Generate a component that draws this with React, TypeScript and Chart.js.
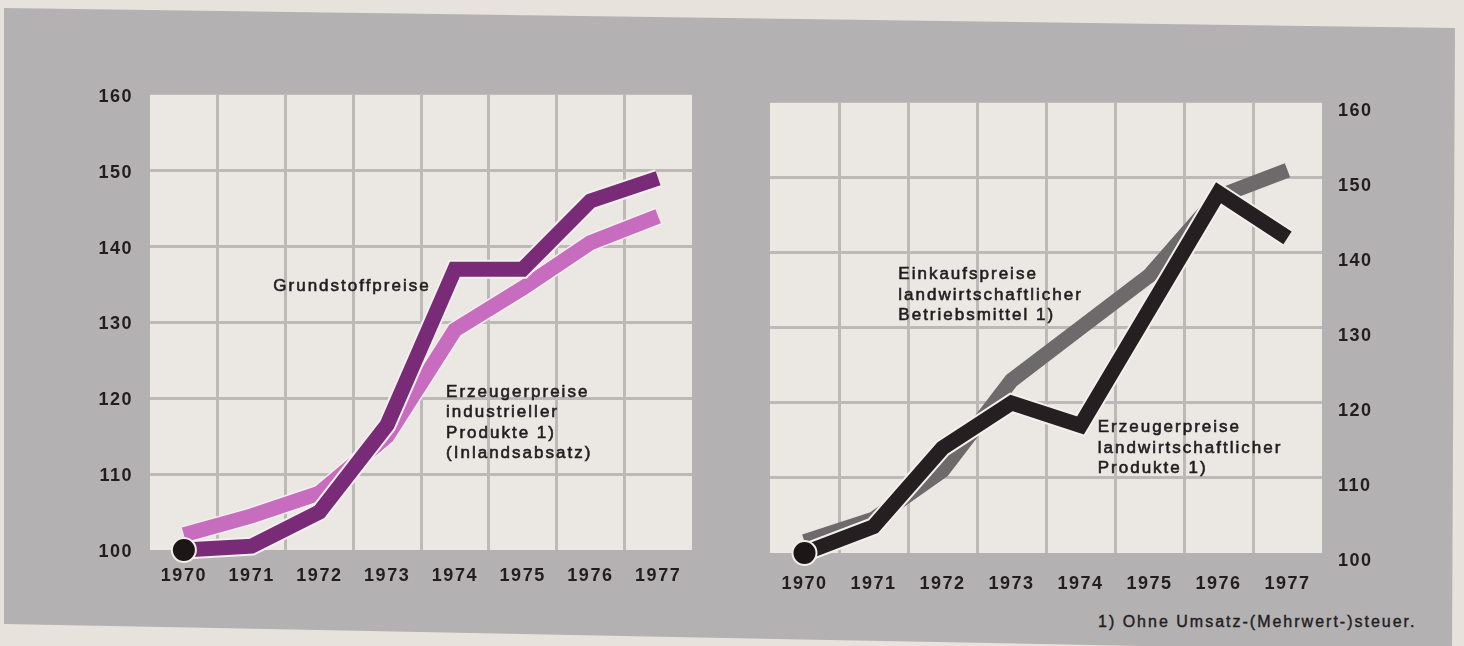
import React, { useEffect, useRef } from "react";
import { Chart, registerables } from "chart.js";

Chart.register(...registerables);

// ---------- data ----------
const years = ["1970", "1971", "1972", "1973", "1974", "1975", "1976", "1977"];
const yMin = 100;
const yMax = 160;
const yStep = 10;

// left panel
const grundstoffpreise = [100, 100.5, 105, 116.5, 137, 137, 146, 149];
const erzeugerpreiseIndustrie = [102, 104.5, 107.5, 115, 129, 134.5, 140.5, 144];

// right panel
const erzeugerpreiseLandwirtschaft = [100, 103.5, 114, 120, 117, 132.5, 148, 142];
const einkaufspreiseBetriebsmittel = [101.5, 104.5, 111, 123, 130, 137, 147.5, 151];

// base-year marker (1970 = 100)
const baseMarker = [100, null, null, null, null, null, null, null];

const leftNotes = [
  { lines: ["Grundstoffpreise"], x: 1.32, y: 134.7 },
  { lines: ["Erzeugerpreise", "industrieller", "Produkte 1)", "(Inlandsabsatz)"], x: 3.87, y: 120.8 },
];
const rightNotes = [
  { lines: ["Einkaufspreise", "landwirtschaftlicher", "Betriebsmittel 1)"], x: 1.36, y: 137.1 },
  { lines: ["Erzeugerpreise", "landwirtschaftlicher", "Produkte 1)"], x: 4.25, y: 116.7 },
];
const footnote = "1) Ohne Umsatz-(Mehrwert-)steuer.";

// ---------- styles ----------
const PAPER = "#e7e2dc";
const GRAY_BG = "#b4b1b2";
const PANEL = "#ebe7e3";
const GRID = "#bdb9b6";
const TEXT = "#221d1f";
const PURPLE = "#7a2b77";
const PINK = "#c76cbe";
const BLACK = "#261f21";
const GRAYLINE = "#6d6a6b";
const FONT = "'Liberation Sans', Arial, Helvetica, sans-serif";

type Note = { lines: string[]; x: number; y: number };

function makePlugin(notes: Note[]) {
  return {
    id: "panelAndNotes",
    beforeDraw(chart: any) {
      const { ctx, chartArea: a } = chart;
      ctx.save();
      ctx.fillStyle = PANEL;
      ctx.fillRect(a.left, a.top, a.right - a.left, a.bottom - a.top);
      ctx.restore();
      (ctx as any).letterSpacing = "1.5px";
    },
    afterDraw(chart: any) {
      const { ctx } = chart;
      const xs = chart.scales.x;
      const ys = chart.scales.y;
      ctx.save();
      (ctx as any).letterSpacing = "2px";
      ctx.fillStyle = TEXT;
      ctx.strokeStyle = TEXT;
      ctx.lineWidth = 0.6;
      ctx.font = `17px ${FONT}`;
      ctx.textAlign = "left";
      ctx.textBaseline = "middle";
      for (const n of notes) {
        const px = xs.getPixelForValue(n.x);
        const py = ys.getPixelForValue(n.y);
        n.lines.forEach((l, i) => {
          ctx.fillText(l, px, py + i * 20.5);
          ctx.strokeText(l, px, py + i * 20.5);
        });
      }
      ctx.restore();
      (ctx as any).letterSpacing = "0px";
    },
  };
}

function line(label: string, data: (number | null)[], color: string, width: number, order: number) {
  return {
    label,
    data,
    borderColor: color,
    backgroundColor: color,
    borderWidth: width,
    pointRadius: 0,
    pointHoverRadius: 0,
    borderJoinStyle: "miter",
    borderCapStyle: "butt",
    tension: 0,
    fill: false,
    clip: false,
    order,
  };
}

function marker(order: number) {
  return {
    label: "1970",
    data: baseMarker,
    showLine: false,
    pointRadius: 12,
    pointHoverRadius: 12,
    pointBackgroundColor: "#1c1617",
    pointBorderColor: "#f1ede9",
    pointBorderWidth: 2,
    clip: false,
    order,
  };
}

function scales(side: "left" | "right") {
  const tickFont = { family: FONT, size: 18, weight: "bold" as const };
  return {
    x: {
      type: "category",
      offset: true,
      border: { display: false },
      grid: {
        offset: true,
        drawTicks: false,
        lineWidth: 3,
        color: (c: any) => (c.index === undefined || c.index === 0 ? "rgba(0,0,0,0)" : GRID),
      },
      ticks: { color: TEXT, font: tickFont, padding: side === "left" ? 15 : 20, maxRotation: 0 },
      afterFit: (s: any) => {
        s.height = 50;
      },
    },
    y: {
      type: "linear",
      position: side,
      min: yMin,
      max: yMax,
      border: { display: false },
      grid: {
        drawTicks: false,
        lineWidth: 3,
        color: (c: any) =>
          c.tick && (c.tick.value === yMin || c.tick.value === yMax) ? "rgba(0,0,0,0)" : GRID,
      },
      ticks: {
        stepSize: yStep,
        color: TEXT,
        font: tickFont,
        padding: side === "left" ? 17 : 16,
        labelOffset: side === "left" ? 2 : 8,
      },
      afterFit: (s: any) => {
        s.width = side === "left" ? 90 : 80;
      },
    },
  };
}

function useChart(ref: React.RefObject<HTMLCanvasElement>, side: "left" | "right") {
  useEffect(() => {
    if (!ref.current) return;
    const datasets =
      side === "left"
        ? [
            marker(0),
            line("Grundstoffpreise", grundstoffpreise, PURPLE, 15, 1),
            line("_g", grundstoffpreise, "#f4f0ee", 19, 2),
            line("Erzeugerpreise industrieller Produkte", erzeugerpreiseIndustrie, PINK, 15, 3),
            line("_e", erzeugerpreiseIndustrie, "#f4f0ee", 18, 4),
          ]
        : [
            marker(0),
            line("Erzeugerpreise landwirtschaftlicher Produkte", erzeugerpreiseLandwirtschaft, BLACK, 15, 1),
            line("_l", erzeugerpreiseLandwirtschaft, "#f4f0ee", 19, 2),
            line("Einkaufspreise landwirtschaftlicher Betriebsmittel", einkaufspreiseBetriebsmittel, GRAYLINE, 15, 3),
          ];
    const chart = new Chart(ref.current, {
      type: "line",
      data: { labels: years, datasets: datasets as any },
      options: {
        responsive: false,
        animation: false,
        devicePixelRatio: 1,
        layout: {
          padding: side === "left" ? { top: 10, right: 10, left: 0, bottom: 0 } : { top: 10, left: 10, right: 0, bottom: 0 },
        },
        plugins: { legend: { display: false }, tooltip: { enabled: false } },
        events: [],
        scales: scales(side) as any,
      },
      plugins: [makePlugin(side === "left" ? leftNotes : rightNotes)],
    });
    return () => chart.destroy();
  }, []);
}

export default function App() {
  const leftRef = useRef<HTMLCanvasElement>(null);
  const rightRef = useRef<HTMLCanvasElement>(null);
  useChart(leftRef, "left");
  useChart(rightRef, "right");

  return (
    <div
      style={{
        position: "fixed",
        left: 0,
        top: 0,
        width: 1464,
        height: 646,
        background: PAPER,
        overflow: "hidden",
        fontFamily: FONT,
      }}
    >
      <div
        style={{
          position: "absolute",
          left: 0,
          top: 0,
          width: 1464,
          height: 646,
          background: GRAY_BG,
          clipPath: "polygon(4px 8px, 1455px 28px, 1452px 652px, 4px 624px)",
        }}
      />
      <canvas
        ref={leftRef}
        width={646}
        height={533}
        style={{ position: "absolute", left: 60, top: 67, width: 646, height: 533 }}
      />
      <canvas
        ref={rightRef}
        width={646}
        height={527}
        style={{ position: "absolute", left: 756, top: 76, width: 646, height: 527 }}
      />
      <div
        style={{
          position: "absolute",
          left: 1098,
          top: 612,
          fontSize: 16,
          lineHeight: "20px",
          letterSpacing: "2px",
          color: TEXT,
          whiteSpace: "nowrap",
          WebkitTextStroke: "0.4px " + TEXT,
        }}
      >
        {footnote}
      </div>
    </div>
  );
}
